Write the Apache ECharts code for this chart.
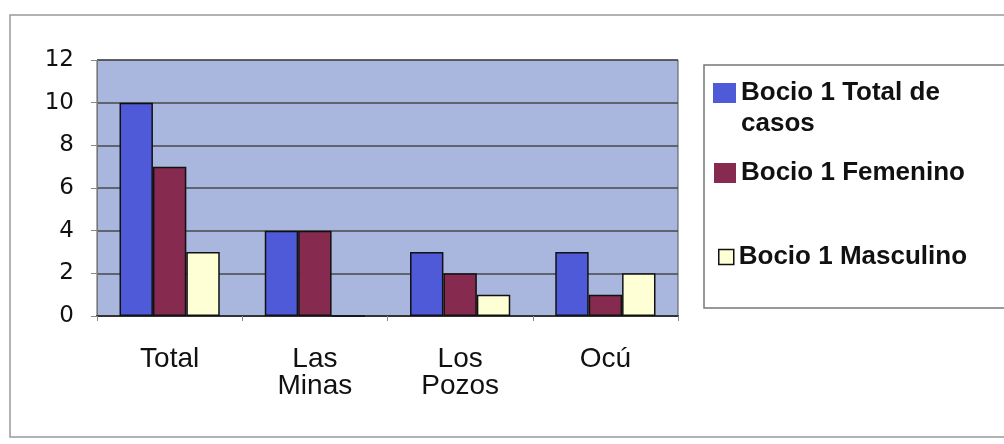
<!DOCTYPE html>
<html>
<head>
<meta charset="utf-8">
<script src="https://cdn.jsdelivr.net/npm/echarts@6/dist/echarts.min.js"></script>
<style>
  html, body { margin: 0; padding: 0; background: #fff; }
  #main { width: 1004px; height: 444px; }
</style>
</head>
<body>
<div id="main"></div>
<script>
// datos
var categorias = ['Total', 'Las\nMinas', 'Los\nPozos', 'Ocú'];
var totalCasos = [10, 4, 3, 3];
var femenino = [7, 4, 2, 1];
var masculino = [3, 0, 1, 2];
var nombres = ['Bocio 1 Total de casos', 'Bocio 1 Femenino', 'Bocio 1 Masculino'];
var ticksY = [0, 2, 4, 6, 8, 10, 12];

var myChart = echarts.init(document.getElementById('main'));

var fuente = 'Arial, "Liberation Sans", sans-serif';
var estiloLeyenda = {
    fontFamily: fuente,
    fontSize: 26,
    fontWeight: 'bold',
    color: '#111'
};

// una leyenda por serie, para poner cada fila donde está en el original
// (la primera se parte en dos líneas: "casos" va como texto aparte)
function leyenda(nombre, top, iconW, iconH, left, borde) {
    return {
        data: [nombre],
        left: left,
        top: top,
        padding: 0,
        itemWidth: iconW,
        itemHeight: iconH,
        itemGap: 0,
        icon: 'rect',
        selectedMode: false,
        itemStyle: { borderWidth: borde, borderColor: '#111' },
        formatter: function (n) {
            return n === nombres[0] ? 'Bocio 1 Total de' : n;
        },
        textStyle: estiloLeyenda
    };
}

var option = {
    animation: false,
    backgroundColor: '#fff',
    graphic: [
        {
            type: 'rect',
            shape: { x: 10, y: 15, width: 1010, height: 422 },
            style: { fill: 'none', stroke: '#999', lineWidth: 1.5 },
            z: -1
        },
        {
            type: 'rect',
            shape: { x: 704, y: 65, width: 320, height: 243 },
            style: { fill: 'none', stroke: '#777', lineWidth: 1.5 },
            z: -1
        },
        {
            type: 'text',
            left: 741,
            top: 111,
            style: {
                text: 'casos',
                font: 'bold 26px ' + fuente,
                fill: '#111'
            }
        }
    ],
    legend: [
        leyenda(nombres[0], 80, 23, 20, 713, 0),
        leyenda(nombres[1], 160, 22, 20, 714, 0),
        leyenda(nombres[2], 244, 15, 15, 718, 1.5)
    ],
    grid: {
        left: 97,
        top: 60,
        width: 581,
        height: 256,
        show: true,
        backgroundColor: '#a9b6dd',
        borderColor: '#555',
        borderWidth: 1
    },
    xAxis: {
        type: 'category',
        data: categorias,
        axisLine: { lineStyle: { color: '#333', width: 2 } },
        axisTick: { show: true, alignWithLabel: false, length: 5, lineStyle: { color: '#888' } },
        axisLabel: {
            fontFamily: fuente,
            fontSize: 28,
            color: '#111',
            lineHeight: 27,
            margin: 30
        }
    },
    yAxis: {
        type: 'value',
        min: 0,
        max: 12,
        interval: 2,
        axisLine: { show: true, lineStyle: { color: '#777' } },
        axisTick: { show: true, length: 6, lineStyle: { color: '#888' } },
        axisLabel: {
            fontFamily: '"DejaVu Sans", sans-serif',
            fontSize: 23,
            color: '#111',
            margin: 23,
            formatter: function (v) { return ticksY.indexOf(v) >= 0 ? String(v) : ''; }
        },
        splitLine: { lineStyle: { color: '#484848', width: 1.5 } }
    },
    series: [
        {
            name: nombres[0],
            type: 'bar',
            data: totalCasos,
            barCategoryGap: '31%',
            barGap: '0%',
            itemStyle: { color: '#4f5ad8', borderColor: '#111', borderWidth: 1.5 }
        },
        {
            name: nombres[1],
            type: 'bar',
            data: femenino,
            itemStyle: { color: '#862a50', borderColor: '#111', borderWidth: 1.5 }
        },
        {
            name: nombres[2],
            type: 'bar',
            data: masculino,
            itemStyle: { color: '#ffffd6', borderColor: '#111', borderWidth: 1.5 }
        }
    ]
};

myChart.setOption(option);
</script>
</body>
</html>
